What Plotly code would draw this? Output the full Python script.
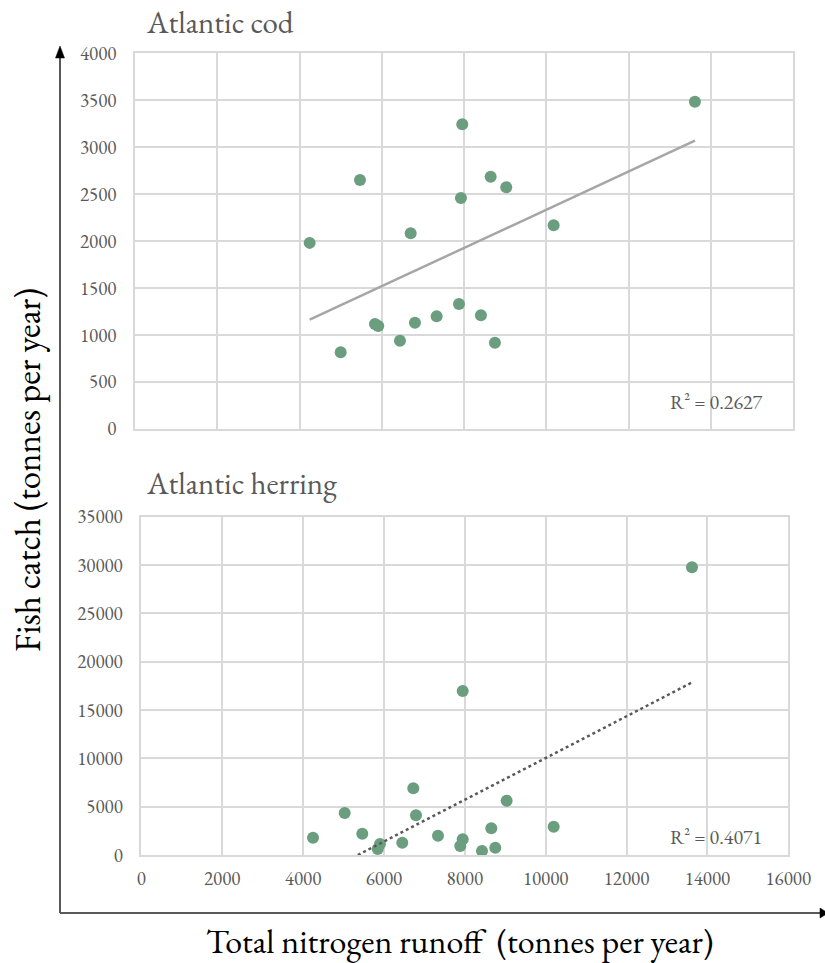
import numpy as np
import plotly.graph_objects as go

# ---------------- data ----------------
nitrogen_cod = [4245, 4999, 5468, 5832, 5912, 6440, 6700, 6804, 7332,
                7874, 7922, 7954, 8408, 8644, 8748, 9023, 10175, 13609]
cod_catch = [1980, 814, 2650, 1116, 1094, 938, 2082, 1129, 1198,
             1329, 2458, 3243, 1208, 2685, 916, 2572, 2167, 3484]

nitrogen_herring = [4246, 5030, 5465, 5846, 5902, 6454, 6726, 6793, 7337,
                    7888, 7948, 7948, 8425, 8655, 8754, 9035, 10198, 13618]
herring_catch = [1790, 4345, 2204, 621, 1138, 1273, 6900, 4107, 1997,
                 931, 1624, 16967, 414, 2762, 755, 5618, 2928, 29765]

panel_titles = ["Atlantic cod", "Atlantic herring"]
r2_labels = ["R² = 0.2627", "R² = 0.4071"]
x_title = "Total nitrogen runoff  (tonnes per year)"
y_title = "Fish catch (tonnes per year)"

# ---------------- layout helpers ----------------
W, H = 825, 963
def px(x):
    return x / W
def py(y):
    return 1 - y / H

FONT = "EB Garamond, Garamond, Liberation Serif, serif"
GRID = "#d9d9d9"
TXT = "#595959"
GREEN = "#6a9e7e"

fig = go.Figure()

# scatter points
fig.add_trace(go.Scatter(x=nitrogen_cod, y=cod_catch, mode="markers",
                         marker=dict(color=GREEN, size=12),
                         xaxis="x", yaxis="y", showlegend=False))
fig.add_trace(go.Scatter(x=nitrogen_herring, y=herring_catch, mode="markers",
                         marker=dict(color=GREEN, size=12),
                         xaxis="x2", yaxis="y2", showlegend=False))

# linear trendlines computed from the data
xc = np.array(nitrogen_cod, float); yc = np.array(cod_catch, float)
mc, bc = np.polyfit(xc, yc, 1)
tx = np.array([xc.min(), xc.max()])
fig.add_trace(go.Scatter(x=tx, y=mc * tx + bc, mode="lines",
                         line=dict(color="#a6a6a6", width=2.5),
                         xaxis="x", yaxis="y", showlegend=False, hoverinfo="skip"))

xh = np.array(nitrogen_herring, float); yh = np.array(herring_catch, float)
mh, bh = np.polyfit(xh, yh, 1)
x_start = max(xh.min(), -bh / mh)  # clipped at the zero line, as in the source
th = np.array([x_start, xh.max()])
fig.add_trace(go.Scatter(x=th, y=mh * th + bh, mode="lines",
                         line=dict(color=TXT, width=2.5, dash="dot"),
                         xaxis="x2", yaxis="y2", showlegend=False, hoverinfo="skip"))

axis_common = dict(showgrid=True, gridcolor=GRID, gridwidth=1.5,
                   showline=True, linecolor=GRID, linewidth=1.5, mirror=True,
                   zeroline=False, automargin=False, tickformat="d",
                   tickfont=dict(family=FONT, size=19, color=TXT),
                   ticks="outside", tickcolor="rgba(0,0,0,0)")

fig.update_layout(
    width=W, height=H, autosize=False,
    margin=dict(l=0, r=0, t=0, b=0, pad=0),
    paper_bgcolor="white", plot_bgcolor="white",
    showlegend=False,
    xaxis=dict(domain=[px(135), px(793.3)], range=[0, 16000], dtick=2000,
               anchor="y", showticklabels=False, **axis_common),
    yaxis=dict(domain=[py(428.7), py(53.3)], range=[0, 4000], dtick=500,
               anchor="x", ticklen=13, **axis_common),
    xaxis2=dict(domain=[px(141.3), px(788.3)], range=[0, 16000], dtick=2000,
                anchor="y2", ticklen=5, **axis_common),
    yaxis2=dict(domain=[py(855), py(516.7)], range=[0, 35000], dtick=5000,
                anchor="x2", ticklen=13, **axis_common),
)

annotations = [
    dict(text=panel_titles[0], x=px(144), y=py(22), xref="paper", yref="paper",
         xanchor="left", yanchor="middle", showarrow=False,
         font=dict(family=FONT, size=31, color=TXT)),
    dict(text=panel_titles[1], x=px(144), y=py(483), xref="paper", yref="paper",
         xanchor="left", yanchor="middle", showarrow=False,
         font=dict(family=FONT, size=31, color=TXT)),
    dict(text=r2_labels[0], x=px(716), y=py(402), xref="paper", yref="paper",
         xanchor="center", yanchor="middle", showarrow=False,
         font=dict(family=FONT, size=20, color=TXT)),
    dict(text=r2_labels[1], x=px(716), y=py(837), xref="paper", yref="paper",
         xanchor="center", yanchor="middle", showarrow=False,
         font=dict(family=FONT, size=20, color=TXT)),
    dict(text=x_title, x=px(460), y=py(941), xref="paper", yref="paper",
         xanchor="center", yanchor="middle", showarrow=False,
         font=dict(family=FONT, size=34, color="black")),
    dict(text=y_title, x=px(27), y=py(470), xref="paper", yref="paper",
         xanchor="center", yanchor="middle", showarrow=False, textangle=-90,
         font=dict(family=FONT, size=35, color="black")),
]
fig.update_layout(annotations=annotations)

def path(points):
    return "M " + " L ".join(f"{px(a):.5f},{py(b):.5f}" for a, b in points) + " Z"

shapes = [
    dict(type="line", xref="paper", yref="paper", x0=px(60), x1=px(60),
         y0=py(913), y1=py(56), line=dict(color="black", width=1.3)),
    dict(type="path", xref="paper", yref="paper",
         path=path([(55.5, 58), (64.5, 58), (60, 46)]),
         fillcolor="black", line=dict(color="black", width=0.5)),
    dict(type="line", xref="paper", yref="paper", x0=px(60), x1=px(820),
         y0=py(913), y1=py(913), line=dict(color="#595959", width=2)),
    dict(type="path", xref="paper", yref="paper",
         path=path([(820, 908), (820, 918), (828, 913)]),
         fillcolor="black", line=dict(color="black", width=0.5)),
]
fig.update_layout(shapes=shapes)

# remove the default 8px page margin so the figure fills the window exactly
fig.write_html("out.html",
               config={"displayModeBar": False},
               post_script="document.body.style.margin='0px';"
                           "document.documentElement.style.overflow='hidden';")
